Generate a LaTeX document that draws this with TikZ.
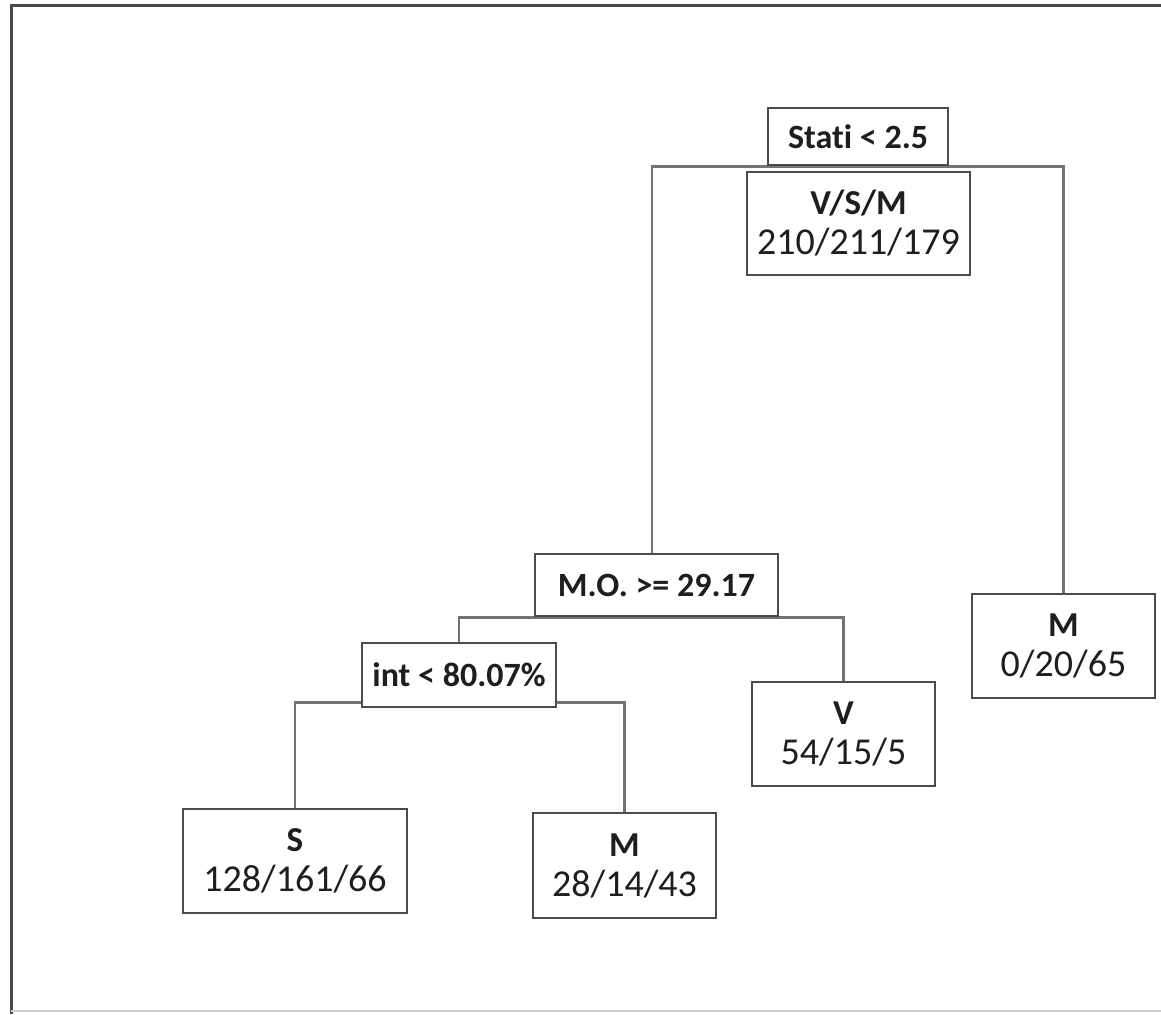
\documentclass[tikz,border=0pt]{standalone}
\usepackage{fontspec}
\setmainfont{Carlito}[Ligatures=NoCommon]
\usetikzlibrary{positioning,backgrounds}
\definecolor{BoxGray}{RGB}{75,75,75}
\definecolor{LinkGray}{RGB}{115,115,115}
\definecolor{InkBlack}{RGB}{30,30,30}
\newcommand{\leafText}[2]{{\bfseries\fontsize{35}{40}\selectfont #1}\\#2}

\begin{document}
\begin{tikzpicture}[x=1pt,y=-1pt,
    box/.style={draw=BoxGray,line width=2.8pt,fill=white,text=InkBlack,inner sep=0pt,align=center},
    split/.style={box,font=\bfseries\fontsize{34}{38}\selectfont},
    leaf/.style={box,font=\fontsize{38}{40}\selectfont},
    link/.style={draw=LinkGray,line width=2.2pt}]
      \useasboundingbox (0,0) rectangle (1161,1014);
      \draw[BoxGray,line width=3pt] (11,1014)--(11,6)--(1161,6);
      \draw[black!20,line width=2pt] (11,1011)--(1161,1011);
      \node[split,minimum width=180,minimum height=57] (stati) at (858,136.5) {Stati < 2.5};
      \node[leaf,minimum width=223,minimum height=103] (root) at (858.5,223.5) {\leafText{V/S/M}{210/211/179}};
      \node[split,minimum width=243,minimum height=62] (mo) at (656.5,585) {M.O. >= 29.17};
      \node[leaf,minimum width=183,minimum height=104] (leafR) at (1063.5,646) {\leafText{M}{0/20/65}};
      \node[split,minimum width=194,minimum height=64] (intn) at (459,675) {int < 80.07\%};
      \node[leaf,minimum width=183,minimum height=104] (leafV) at (843.5,734) {\leafText{V}{54/15/5}};
      \node[leaf,minimum width=224,minimum height=104] (leafS) at (295,861) {\leafText{S}{128/161/66}};
      \node[leaf,minimum width=183,minimum height=105] (leafM) at (624.5,865.5) {\leafText{M}{28/14/43}};
      \begin{scope}[on background layer]
        \fill[white] (0,0) rectangle (1161,1014);
        \draw[link] ([xshift=-4.5pt]mo.north) |- (stati.south) -| (leafR.north);
        \draw[link] (intn.north) |- (mo.south) -| (leafV.north);
        \draw[link] (leafS.north) |- ([yshift=6pt]intn.south) -| (leafM.north);
      \end{scope}
    \end{tikzpicture}
\end{document}
